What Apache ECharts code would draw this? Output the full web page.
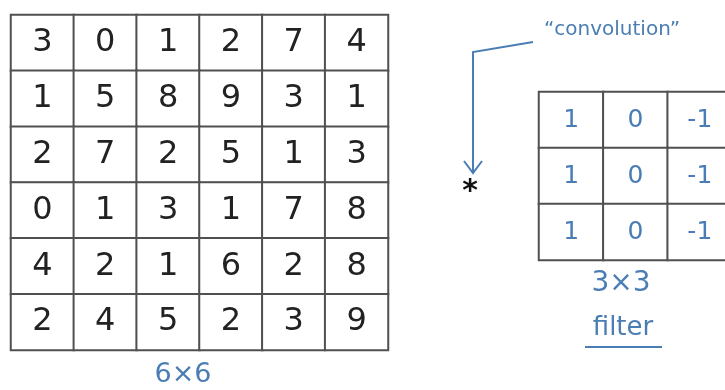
<!DOCTYPE html>
<html>
<head>
<meta charset="utf-8">
<script src="https://cdn.jsdelivr.net/npm/echarts@6/dist/echarts.min.js"></script>
<style>html,body{margin:0;padding:0;background:#fff;}#c{width:725px;height:390px;}</style>
</head>
<body>
<div id="c"></div>
<script>
// 6x6 input image values (rows top to bottom)
var imageRows = [
  [3, 0, 1, 2, 7, 4],
  [1, 5, 8, 9, 3, 1],
  [2, 7, 2, 5, 1, 3],
  [0, 1, 3, 1, 7, 8],
  [4, 2, 1, 6, 2, 8],
  [2, 4, 5, 2, 3, 9]
];
// 3x3 filter values
var filterRows = [
  [1, 0, -1],
  [1, 0, -1],
  [1, 0, -1]
];
var imageCols = ['0', '1', '2', '3', '4', '5'];
var filterCols = ['0', '1', '2'];
var imageLabel = '6×6';
var filterLabel = '3×3';
var filterWord = 'filter';
var opLabel = '“convolution”';

function toCells(rows) {
  var out = [];
  rows.forEach(function (r, y) { r.forEach(function (v, x) { out.push([x, y, v]); }); });
  return out;
}

var blue = '#4a7db3';
var chart = echarts.init(document.getElementById('c'), null, {renderer: 'canvas'});
chart.setOption({
  backgroundColor: '#ffffff',
  animation: false,
  grid: [
    {left: 11, top: 15, width: 377, height: 335, outerBoundsMode: 'none'},
    {left: 539, top: 92, width: 193, height: 168, outerBoundsMode: 'none'}
  ],
  xAxis: [
    {type: 'category', gridIndex: 0, data: imageCols, show: false},
    {type: 'category', gridIndex: 1, data: filterCols, show: false}
  ],
  yAxis: [
    {type: 'category', gridIndex: 0, data: imageCols, inverse: true, show: false},
    {type: 'category', gridIndex: 1, data: filterCols, inverse: true, show: false}
  ],
  visualMap: {
    show: false, min: -1, max: 9, seriesIndex: [0, 1],
    inRange: {color: ['#ffffff', '#ffffff']}
  },
  series: [
    {
      type: 'heatmap', xAxisIndex: 0, yAxisIndex: 0,
      data: toCells(imageRows),
      itemStyle: {borderColor: '#505050', borderWidth: 2},
      label: {show: true, fontFamily: 'DejaVu Sans', fontSize: 32, color: '#222',
        formatter: function (p) { return p.value[2]; }},
      emphasis: {disabled: true}
    },
    {
      type: 'heatmap', xAxisIndex: 1, yAxisIndex: 1,
      data: toCells(filterRows),
      itemStyle: {borderColor: '#505050', borderWidth: 2},
      label: {show: true, fontFamily: 'DejaVu Sans', fontSize: 25, color: blue,
        formatter: function (p) { return p.value[2]; }},
      emphasis: {disabled: true}
    }
  ],
  graphic: [
    {type: 'polyline', shape: {points: [[533, 42], [473, 52], [473, 172]]},
      style: {stroke: blue, lineWidth: 2, fill: null}},
    {type: 'polyline', shape: {points: [[464, 161], [473, 173], [482, 161]]},
      style: {stroke: blue, lineWidth: 2, fill: null}},
    {type: 'text', x: 470, y: 192, style: {text: '*', fontFamily: 'DejaVu Sans', fontSize: 30,
      fontWeight: 'bold', fill: '#111', align: 'center', verticalAlign: 'middle'}},
    {type: 'text', x: 612, y: 30, style: {text: opLabel, fontFamily: 'DejaVu Sans', fontSize: 20,
      fill: blue, align: 'center', verticalAlign: 'middle'}},
    {type: 'text', x: 183, y: 375, style: {text: imageLabel, fontFamily: 'DejaVu Sans', fontSize: 27,
      fill: blue, align: 'center', verticalAlign: 'middle'}},
    {type: 'text', x: 621, y: 284, style: {text: filterLabel, fontFamily: 'DejaVu Sans', fontSize: 28,
      fill: blue, align: 'center', verticalAlign: 'middle'}},
    {type: 'text', x: 623, y: 328, style: {text: filterWord, fontFamily: 'DejaVu Sans', fontSize: 26,
      fill: blue, align: 'center', verticalAlign: 'middle'}},
    {type: 'line', shape: {x1: 585, y1: 347, x2: 662, y2: 347},
      style: {stroke: blue, lineWidth: 2}}
  ]
});
</script>
</body>
</html>
